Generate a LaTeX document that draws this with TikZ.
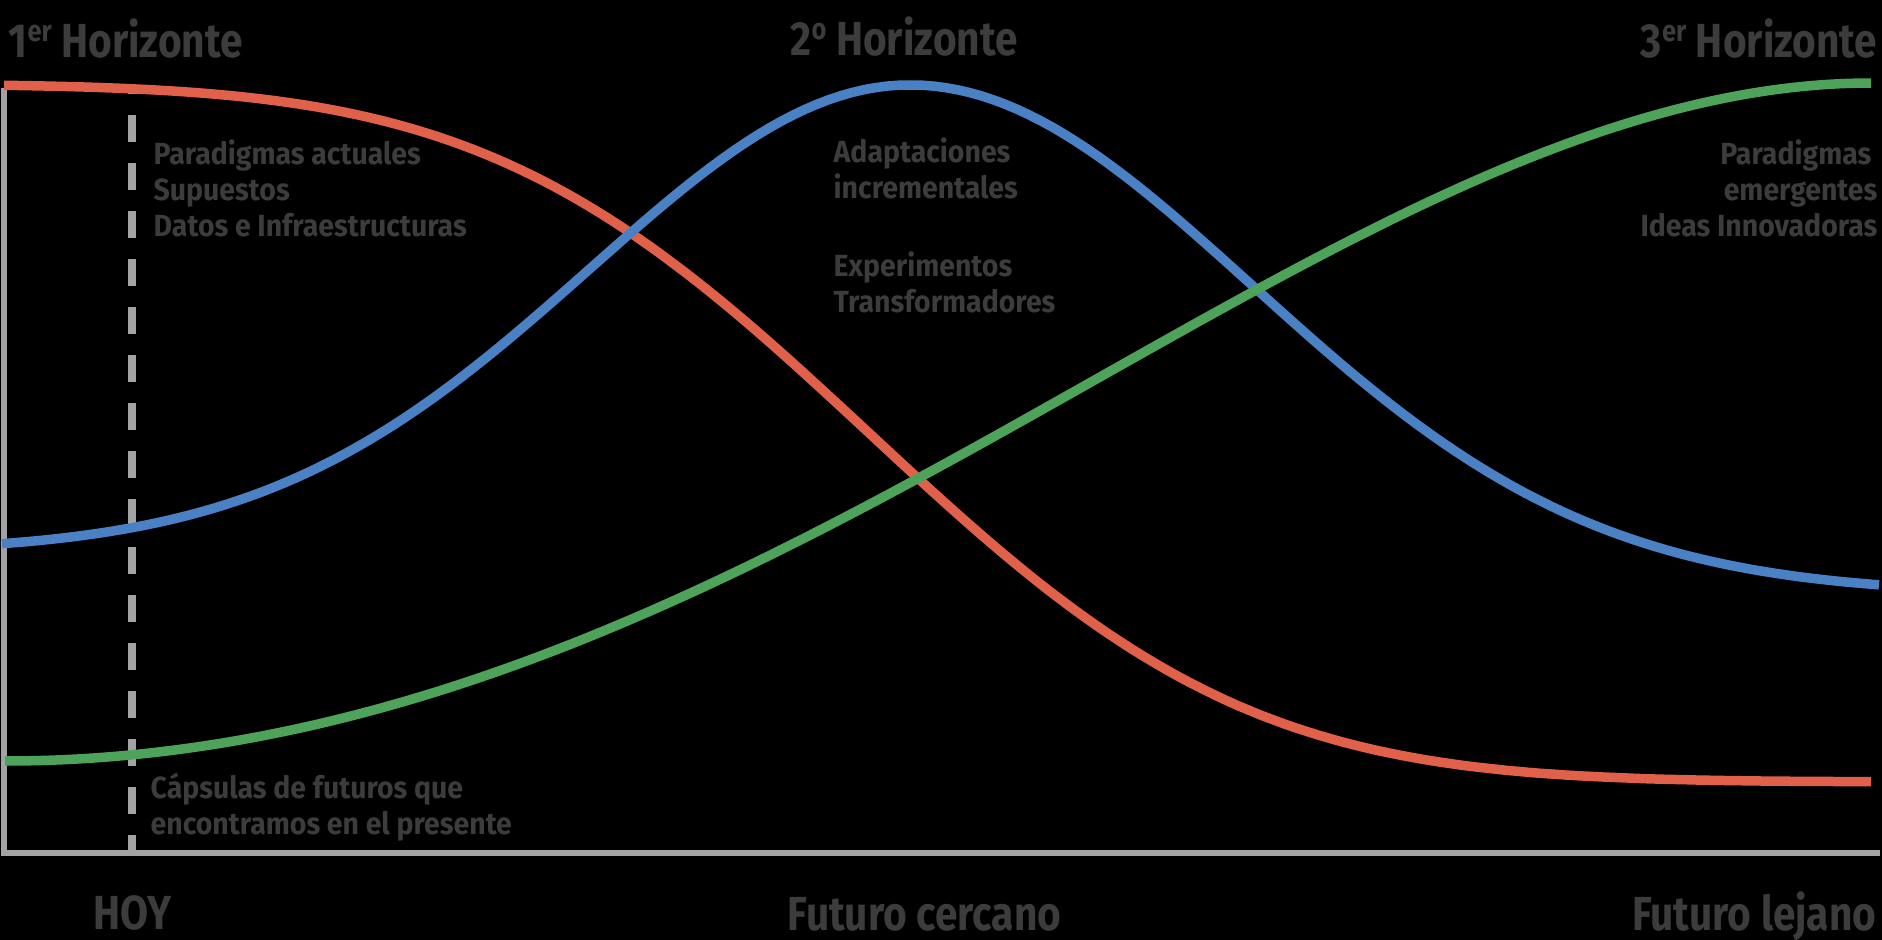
\documentclass[tikz,border=0pt]{standalone}
\usepackage{fontspec}
\newfontfamily\hzfont{Fira Sans}[FakeStretch=0.85]
\newfontfamily\notefont{Fira Sans}[FakeStretch=0.93]
\usetikzlibrary{positioning}
\definecolor{redc}{HTML}{E1604A}
\definecolor{bluec}{HTML}{4A80C4}
\definecolor{greenc}{HTML}{4EA35B}
\definecolor{axisc}{HTML}{A3A3A3}
\definecolor{ink}{HTML}{3C3C3C}
\newcommand{\ordsup}[1]{\raisebox{4.3pt}{\fontsize{8.5}{8.5}\selectfont #1}}
\tikzset{
  curve/.style={draw=#1,line width=0.95mm},
  axisln/.style={draw=axisc,line width=0.65mm},
  hoyln/.style={draw=axisc,line width=0.8mm,dash pattern=on 2.7mm off 2.1mm,dash phase=2.1mm},
  htitle/.style={font=\hzfont\bfseries\fontsize{13.6}{16}\selectfont,text=ink,inner sep=0pt},
  note/.style={font=\notefont\bfseries\fontsize{8.7}{10.24}\selectfont,text=ink,inner sep=0pt},
}

\begin{document}
\begin{tikzpicture}[x=0.1mm,y=-0.1mm,
  declare function={
    phi(\z)=1/(1+exp(-(1.5976*\z+0.070566*\z*\z*\z)));
    redf(\x)=84+698*phi((\x-869)/300);
    gl(\x)=exp(-0.5*((\x-910)/320)*((\x-910)/320));
    gr(\x)=exp(-0.5*((\x-910)/342)*((\x-910)/342));
    bluef(\x)=(\x<910) ? (552-467*gl(\x)) : (594-509*gr(\x));
  }]
  \fill[black] (0,0) rectangle (1882,940);
  \useasboundingbox (0,0) rectangle (1882,940);
  % axes and today line
  \draw[axisln] (4,88) -- (4,853) -- (1880,853);
  \draw[hoyln] (132,88) -- (132,853);
  % the three horizons
  \draw[curve=redc] plot[domain=4:1871,samples=160] (\x,{redf(\x)});
  \draw[curve=bluec] plot[domain=2:1879,samples=160] (\x,{bluef(\x)});
  \draw[curve=greenc] (5,761) .. controls (770,761) and (1325,83) .. (1871,83);
  % titles
  \node[htitle,anchor=base west] (h1) at (8,57) {1\ordsup{er} Horizonte};
  \node[htitle,anchor=base west] (h2) at (790,55) {2\ordsup{o} Horizonte};
  \node[htitle,anchor=base east] (h3) at (1878,57) {3\ordsup{er} Horizonte};
  % notes
  \node[note,anchor=north west,align=left] (n1) at (153,139) {Paradigmas actuales\\Supuestos\\Datos e Infraestructuras};
  \node[note,anchor=north west,align=left] (n2) at (833,137) {Adaptaciones\\incrementales\\[12pt]Experimentos\\Transformadores};
  \node[note,anchor=north east,align=right] (n3) at (1878,139) {Paradigmas\hspace*{0.6mm}\\emergentes\\Ideas Innovadoras};
  \node[note,anchor=north west,align=left] (n4) at (150,772) {Cápsulas de futuros que\\encontramos en el presente};
  % time axis labels
  \node[htitle,anchor=base west] (hoy) at (93,929) {HOY};
  \node[htitle,anchor=base west] (cerca) at (787,930) {Futuro cercano};
  \node[htitle,anchor=base east] (lejos) at (1877,930) {Futuro lejano};
\end{tikzpicture}
\end{document}
